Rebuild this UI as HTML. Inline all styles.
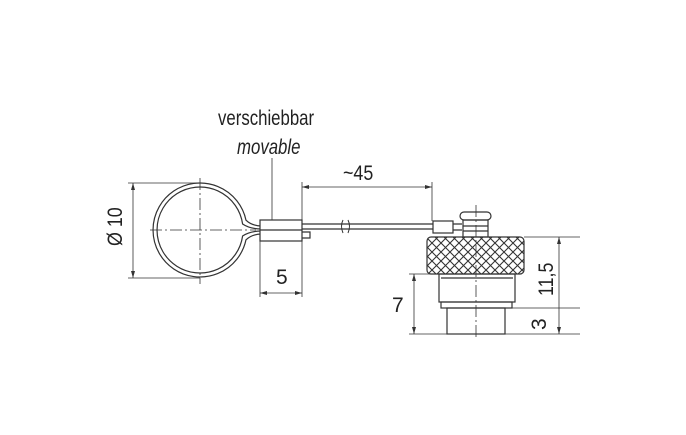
<!DOCTYPE html><html><head><style>body{margin:0;background:#fff}svg{display:block}text{font-family:"Liberation Sans",sans-serif;fill:#222}</style></head><body>
<svg width="686" height="435" viewBox="0 0 686 435" xmlns="http://www.w3.org/2000/svg">
<defs><pattern id="kn" width="9" height="9" patternUnits="userSpaceOnUse"><path d="M0 0L9 9M9 0L0 9" stroke="#333" stroke-width="1.1"/></pattern></defs>
<g fill="none" stroke="#333" stroke-width="1.2">
<!-- ring -->
<path d="M262 226 Q252 226 246 220.2 A47 47 0 1 0 246 239.8 Q252 234 262 234"/>
<path d="M262 229 Q250 229 242.6 224 A43 43 0 1 0 242.6 236 Q250 231 262 231"/>
<rect x="260" y="220" width="42" height="21" fill="#fff"/>
<line x1="260" y1="230" x2="302" y2="230"/>
<path d="M302 232 H310 V238 H302"/>
<!-- cable -->
<line x1="302" y1="224" x2="433" y2="224"/><line x1="302" y1="229" x2="433" y2="229"/>
<path d="M343 220 q-3 6 0 13 M348 220 q3 6 0 13" stroke-width="1"/>
<rect x="433" y="221" width="20" height="12" fill="#fff"/>
<path d="M453 224 H462 M453 230 H462"/>
<!-- knob -->
<rect x="460" y="212" width="31" height="8" rx="4"/>
<rect x="463" y="220" width="25" height="17"/>
<line x1="463" y1="226" x2="488" y2="226"/><line x1="463" y1="231" x2="488" y2="231"/>
<!-- nut -->
<rect x="427" y="237" width="97" height="37" rx="4" fill="url(#kn)"/>
<rect x="439" y="274" width="76" height="28"/>
<line x1="441" y1="278" x2="513" y2="278"/>
<rect x="441" y="302" width="71" height="6"/>
<rect x="447" y="308" width="58" height="26"/>
</g>
<g stroke="#333" stroke-width="0.8" fill="none">
<line x1="200" y1="178" x2="200" y2="284" stroke-dasharray="12 3 2 3"/>
<line x1="150" y1="230" x2="256" y2="230" stroke-dasharray="12 3 2 3"/>
<line x1="476" y1="205" x2="476" y2="340" stroke-dasharray="12 3 2 3"/>
<line x1="128" y1="183" x2="200" y2="183"/><line x1="128" y1="278" x2="200" y2="278"/>
<line x1="133" y1="183" x2="133" y2="278"/>
<line x1="260" y1="241" x2="260" y2="297"/><line x1="302" y1="238" x2="302" y2="297"/>
<line x1="260" y1="293" x2="302" y2="293"/>
<line x1="272" y1="158" x2="272" y2="220"/>
<line x1="302" y1="182" x2="302" y2="220"/><line x1="432" y1="182" x2="432" y2="221"/>
<line x1="302" y1="187" x2="432" y2="187"/>
<line x1="524" y1="237" x2="580" y2="237"/><line x1="505" y1="334" x2="580" y2="334"/>
<line x1="512" y1="308" x2="580" y2="308"/>
<line x1="559" y1="237" x2="559" y2="334"/>
<line x1="409" y1="274" x2="439" y2="274"/><line x1="409" y1="334" x2="447" y2="334"/>
<line x1="414" y1="274" x2="414" y2="334"/>
</g>
<g fill="#333">
<path d="M133 183l-2 7h4z M133 278l-2-7h4z M260 293l7-2v4z M302 293l-7-2v4z M302 187l7-2v4z M432 187l-7-2v4z M559 237l-2 7h4z M559 334l-2-7h4z M414 274l-2 7h4z M414 334l-2-7h4z"/>
</g>
<g font-size="21">
<text x="218" y="125" transform="translate(218 0) scale(0.8 1) translate(-218 0)">verschiebbar</text>
<text x="237" y="154" font-style="italic" transform="translate(237 0) scale(0.8 1) translate(-237 0)">movable</text>
<text x="343" y="180" transform="translate(343 0) scale(0.85 1) translate(-343 0)">~45</text>
<text x="276" y="284">5</text>
<text x="392" y="312">7</text>
<text transform="translate(122 246) rotate(-90) scale(0.85 1)">Ø 10</text>
<text transform="translate(553 296) rotate(-90) scale(0.85 1)">11,5</text>
<text transform="translate(546 330) rotate(-90)">3</text>
</g>
</svg></body></html>
